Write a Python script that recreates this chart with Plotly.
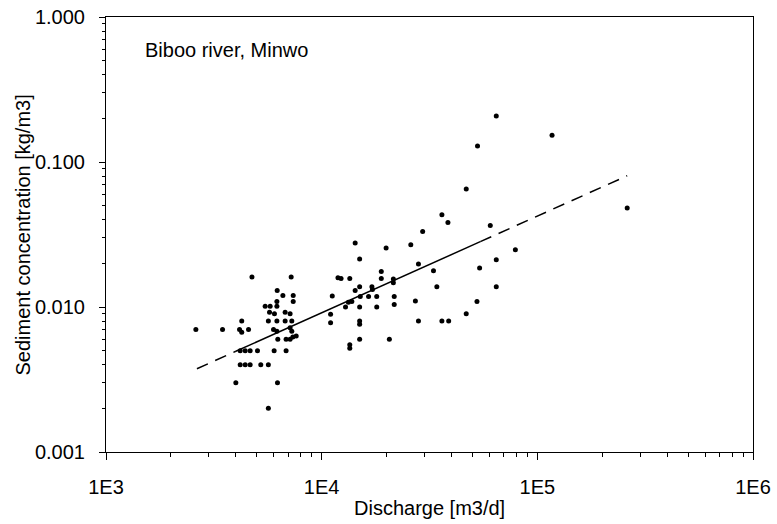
import plotly.graph_objects as go

# Discharge [m3/d]
discharge = [
    2610, 3470, 4160, 4260, 4580, 4260, 4750, 4190, 4420, 4660, 5040,
    4190, 4420, 4660, 5220, 5660, 4000, 6240, 5660, 7220, 6220, 6610,
    7380, 7380, 6200, 5470, 5770, 6200, 5730, 6040, 6770, 7140, 5660,
    6200, 6770, 7270, 5980, 6200, 7140, 7270, 6260, 6840, 7140, 7350,
    7620, 6020, 6840,
    11900, 11200, 11000, 11000, 36100, 38500, 29400, 14300, 19900, 25900,
    15000, 28100, 33000, 18900, 12300, 13500, 18900, 21500, 21500, 14300,
    15000, 17100, 17200, 34200, 13300, 13800, 15100, 16500, 18000, 21700,
    27200, 12900, 15000, 18000, 21700, 15000, 15000, 28100, 36100, 38800,
    15000, 20600, 13500, 13500,
    64500, 117000, 52800, 46800, 60500, 79100, 64500, 54000, 64500, 52500,
    46800, 261000,
]
# Sediment concentration [kg/m3]
concentration = [
    0.0070, 0.0070, 0.0070, 0.0067, 0.0070, 0.0080, 0.0161, 0.0050, 0.0050,
    0.0050, 0.0050, 0.0040, 0.0040, 0.0040, 0.0040, 0.0040, 0.0030, 0.0030,
    0.0020, 0.0161, 0.0130, 0.0120, 0.0120, 0.0109, 0.0109, 0.0101, 0.0101,
    0.0101, 0.0092, 0.0090, 0.0092, 0.0090, 0.0080, 0.0080, 0.0080, 0.0080,
    0.0070, 0.0068, 0.0072, 0.0068, 0.0060, 0.0060, 0.0060, 0.0062, 0.0063,
    0.0050, 0.0050,
    0.0159, 0.0119, 0.0089, 0.0078, 0.0433, 0.0383, 0.0332, 0.0276, 0.0255,
    0.0269, 0.0214, 0.0198, 0.0178, 0.0176, 0.0157, 0.0157, 0.0157, 0.0156,
    0.0147, 0.0130, 0.0138, 0.0138, 0.0132, 0.0138, 0.0108, 0.0109, 0.0118,
    0.0118, 0.0118, 0.0118, 0.0110, 0.0100, 0.0100, 0.0100, 0.0104, 0.0080,
    0.0076, 0.0080, 0.0080, 0.0080, 0.0060, 0.0060, 0.0055, 0.0052,
    0.208, 0.153, 0.129, 0.0651, 0.0365, 0.0248, 0.0212, 0.0186, 0.0138,
    0.0109, 0.0090, 0.0481,
]

# Power-law fit  C = a * Q^b
fit_a = 10 ** -4.708
fit_b = 0.667
fit_dashed_left = [2640, 4000]
fit_solid = [4000, 54400]
fit_dashed_right = [54400, 261000]

x_tickvals = [1e3, 1e4, 1e5, 1e6]
x_ticktext = ["1E3", "1E4", "1E5", "1E6"]
y_tickvals = [0.001, 0.01, 0.1, 1.0]
y_ticktext = ["0.001", "0.010", "0.100", "1.000"]

FONT = "Liberation Sans, Arial, Helvetica, sans-serif"
FS = 20


def fit(xs):
    return [fit_a * x ** fit_b for x in xs]


fig = go.Figure()
fig.add_trace(go.Scatter(x=fit_dashed_left, y=fit(fit_dashed_left), mode="lines",
                         line=dict(color="black", width=1.5, dash="12px,8px"),
                         showlegend=False, hoverinfo="skip"))
fig.add_trace(go.Scatter(x=fit_solid, y=fit(fit_solid), mode="lines",
                         line=dict(color="black", width=1.5),
                         showlegend=False, hoverinfo="skip"))
fig.add_trace(go.Scatter(x=fit_dashed_right, y=fit(fit_dashed_right), mode="lines",
                         line=dict(color="black", width=1.5, dash="12px,8px"),
                         showlegend=False, hoverinfo="skip"))
fig.add_trace(go.Scatter(x=discharge, y=concentration, mode="markers",
                         marker=dict(color="black", size=5, line=dict(width=0)),
                         showlegend=False))

x_minor = [k * 10 ** d for d in range(3, 6) for k in range(2, 10)]
y_minor = [k * 10.0 ** d for d in range(-3, 0) for k in range(2, 10)]

fig.update_xaxes(type="log", range=[3, 6], showgrid=False, zeroline=False,
                 showline=True, linecolor="black", linewidth=1, mirror=True,
                 tickvals=x_tickvals, ticktext=x_ticktext, ticks="outside",
                 ticklen=7, tickwidth=1, tickcolor="black",
                 ticklabelstandoff=10,
                 tickfont=dict(family=FONT, size=FS, color="black"),
                 minor=dict(tickvals=x_minor, ticks="outside", ticklen=4,
                            tickwidth=1, tickcolor="black", showgrid=False),
                 automargin=False)
fig.update_yaxes(type="log", range=[-3, 0], showgrid=False, zeroline=False,
                 showline=True, linecolor="black", linewidth=1, mirror=True,
                 tickvals=y_tickvals, ticktext=y_ticktext, ticks="outside",
                 ticklen=6, tickwidth=1, tickcolor="black",
                 ticklabelstandoff=10,
                 tickfont=dict(family=FONT, size=FS, color="black"),
                 minor=dict(tickvals=y_minor, ticks="outside", ticklen=3,
                            tickwidth=1, tickcolor="black", showgrid=False),
                 automargin=False)

fig.add_annotation(text="Discharge [m3/d]", xref="paper", yref="paper",
                   x=0.5, y=-0.1287, xanchor="center", yanchor="middle",
                   showarrow=False, font=dict(family=FONT, size=FS, color="black"))
fig.add_annotation(text="Sediment concentration [kg/m3]", xref="paper", yref="paper",
                   x=-0.1283, y=0.5, xanchor="center", yanchor="middle",
                   textangle=-90, showarrow=False,
                   font=dict(family=FONT, size=FS, color="black"))
fig.add_annotation(text="Biboo river, Minwo", xref="paper", yref="paper",
                   x=0.0572, y=0.924, xanchor="left", yanchor="middle",
                   showarrow=False, font=dict(family=FONT, size=FS, color="black"))

fig.update_layout(width=777, height=524,
                  margin=dict(l=106, r=24, t=17, b=72, pad=0),
                  paper_bgcolor="white", plot_bgcolor="white",
                  font=dict(family=FONT, color="black"))

fig.write_html("out.html")
